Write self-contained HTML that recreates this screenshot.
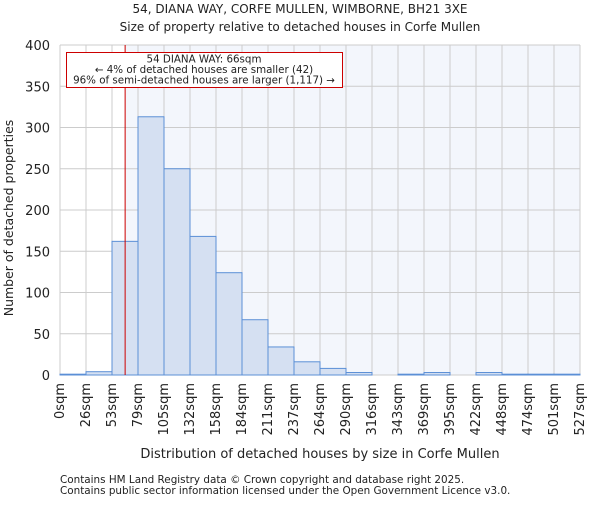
<!DOCTYPE html>
<html><head><meta charset="utf-8"><style>
body{margin:0;background:#fff;}
svg text{font-family:"DejaVu Sans","Liberation Sans",sans-serif;fill:#222;}
</style></head><body>
<svg id="c" width="600" height="500" xmlns="http://www.w3.org/2000/svg">
<text x="300" y="13" text-anchor="middle" font-size="12">54, DIANA WAY, CORFE MULLEN, WIMBORNE, BH21 3XE</text>
<text x="300" y="31" text-anchor="middle" font-size="12">Size of property relative to detached houses in Corfe Mullen</text>
<text x="320" y="458" text-anchor="middle" font-size="13">Distribution of detached houses by size in Corfe Mullen</text>
<text transform="translate(13,218) rotate(-90)" text-anchor="middle" font-size="12.5">Number of detached properties</text>
<text x="60" y="483" font-size="10.4">Contains HM Land Registry data © Crown copyright and database right 2025.</text>
<text x="60" y="494" font-size="10.4">Contains public sector information licensed under the Open Government Licence v3.0.</text>
<g id="plot"></g>
</svg>
<script>
const categories=["0sqm","26sqm","53sqm","79sqm","105sqm","132sqm","158sqm","184sqm","211sqm","237sqm","264sqm","290sqm","316sqm","343sqm","369sqm","395sqm","422sqm","448sqm","474sqm","501sqm","527sqm"];
const values=[1,4,162,313,250,168,124,67,34,16,8,3,0,1,3,0,3,1,1,1];
const yTicks=[0,50,100,150,200,250,300,350,400];
const edges=[0,26.35,52.7,79.05,105.4,131.75,158.1,184.45,210.8,237.15,263.5,289.85,316.2,342.55,368.9,395.25,421.6,447.95,474.3,500.65,527];
const subject=66;
const X0=60,X1=580,Y0=375,Y1=45,YMAX=400,XMAX=527;
const x=v=>X0+(v/XMAX)*(X1-X0);
const y=v=>Y0-(v/YMAX)*(Y0-Y1);
const NS="http://www.w3.org/2000/svg";
const g=document.getElementById('plot');
function mk(t,a){const e=document.createElementNS(NS,t);for(const k in a)e.setAttribute(k,a[k]);g.appendChild(e);return e;}
let e;
e=mk('rect',{x:x(subject),y:Y1,width:X1-x(subject),height:Y0-Y1,fill:'#f3f6fc'});


yTicks.forEach(t=>{
 e=mk('line',{x1:X0,x2:X1,y1:y(t),y2:y(t),stroke:'#ccc','stroke-width':1});
 
 
 e=mk('text',{x:X0-10,y:y(t)+5,'text-anchor':'end','font-size':13});e.textContent=t;
 
 
});
edges.forEach((v,i)=>{
 e=mk('line',{x1:x(v),x2:x(v),y1:Y1,y2:Y0,stroke:'#ccc','stroke-width':1});
 
 
 const tx=x(v)+4;
 e=mk('text',{x:0,y:0,'text-anchor':'end','font-size':13,transform:`translate(${tx},383) rotate(-90)`});e.textContent=categories[i];
 
 
});
values.forEach((v,i)=>{
 e=mk('rect',{x:x(edges[i]),y:y(v),width:x(edges[i+1])-x(edges[i]),height:Y0-y(v),fill:'#d5e0f2',stroke:'#5b8fd6','stroke-width':1});
 
 
});
e=mk('line',{x1:x(subject),x2:x(subject),y1:Y1,y2:Y0,stroke:'#cc0000','stroke-width':1});


e=mk('rect',{x:66.5,y:52.5,width:276,height:35,fill:'#fff',stroke:'#cc0000','stroke-width':1});


const lines=["54 DIANA WAY: 66sqm","← 4% of detached houses are smaller (42)","96% of semi-detached houses are larger (1,117) →"];
lines.forEach((l,i)=>{
 e=mk('text',{x:204,y:62.5+i*10.5,'text-anchor':'middle','font-size':10.3});e.textContent=l;
 
 
});
</script>
</body></html>
